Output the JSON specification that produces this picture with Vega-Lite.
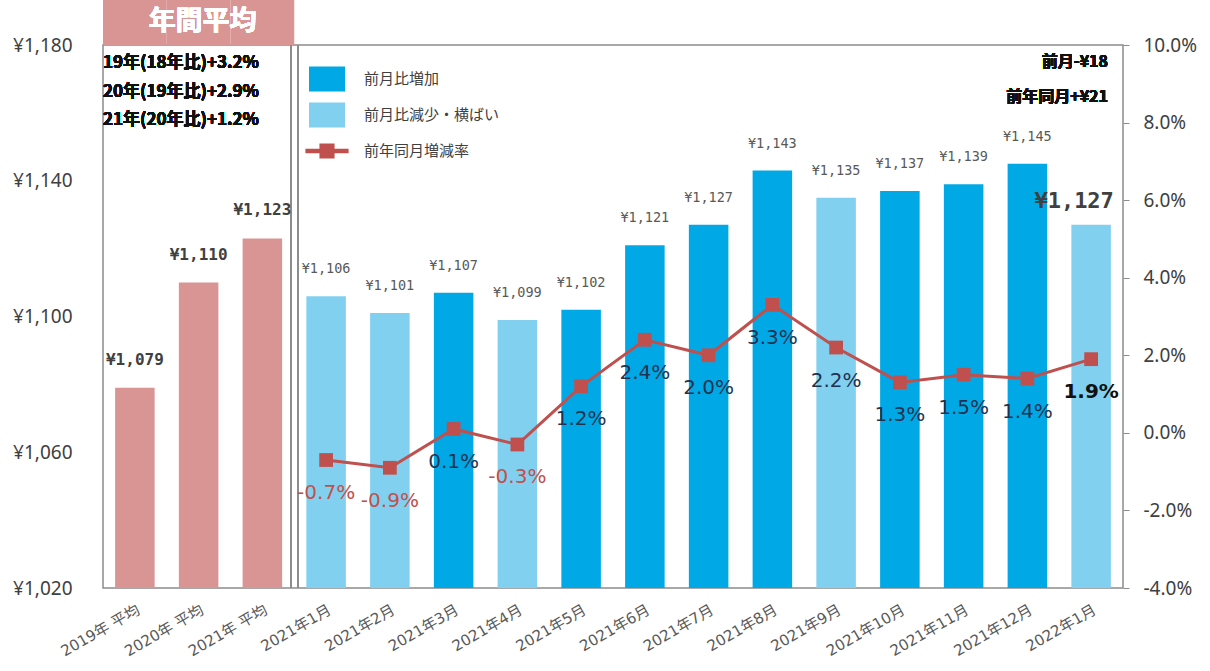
{
  "$schema": "https://vega.github.io/schema/vega-lite/v6.json",
  "width": 1020,
  "height": 543,
  "autosize": {"type": "none"},
  "padding": {"left": 103, "top": 45, "right": 87, "bottom": 83},
  "background": "white",
  "config": {
    "font": "DejaVu Sans, Noto Sans CJK JP",
    "view": {"stroke": "#8c8c8c", "strokeWidth": 1.5},
    "locale": {
      "number": {"decimal": ".", "thousands": ",", "grouping": [3], "currency": ["¥", ""], "minus": "-"}
    }
  },
  "data": {
    "values": [
      {"cat": "2019年 平均", "price": 1079, "type": "年間平均"},
      {"cat": "2020年 平均", "price": 1110, "type": "年間平均"},
      {"cat": "2021年 平均", "price": 1123, "type": "年間平均"},
      {"cat": "2021年1月", "price": 1106, "type": "前月比減少・横ばい", "rate": -0.007},
      {"cat": "2021年2月", "price": 1101, "type": "前月比減少・横ばい", "rate": -0.009},
      {"cat": "2021年3月", "price": 1107, "type": "前月比増加", "rate": 0.001},
      {"cat": "2021年4月", "price": 1099, "type": "前月比減少・横ばい", "rate": -0.003},
      {"cat": "2021年5月", "price": 1102, "type": "前月比増加", "rate": 0.012},
      {"cat": "2021年6月", "price": 1121, "type": "前月比増加", "rate": 0.024},
      {"cat": "2021年7月", "price": 1127, "type": "前月比増加", "rate": 0.02},
      {"cat": "2021年8月", "price": 1143, "type": "前月比増加", "rate": 0.033},
      {"cat": "2021年9月", "price": 1135, "type": "前月比減少・横ばい", "rate": 0.022},
      {"cat": "2021年10月", "price": 1137, "type": "前月比増加", "rate": 0.013},
      {"cat": "2021年11月", "price": 1139, "type": "前月比増加", "rate": 0.015},
      {"cat": "2021年12月", "price": 1145, "type": "前月比増加", "rate": 0.014},
      {"cat": "2022年1月", "price": 1127, "type": "前月比減少・横ばい", "rate": 0.019}
    ]
  },
  "encoding": {
    "x": {
      "field": "cat",
      "type": "nominal",
      "sort": null,
      "scale": {"paddingInner": 0, "paddingOuter": 0},
      "axis": {
        "title": null,
        "labelAngle": -30,
        "labelFontSize": 15,
        "labelColor": "#595959",
        "labelPadding": 14,
        "ticks": false,
        "domain": false
      }
    }
  },
  "layer": [
    {
      "layer": [
        {
          "transform": [{"filter": "datum.type === '年間平均'"}],
          "mark": {"type": "bar", "width": {"band": 1}, "color": "#d99594"},
          "encoding": {
            "y": {"datum": 1180},
            "y2": {"datum": 1193.3}
          }
        },
        {
          "mark": {"type": "text", "text": "年間平均", "fontSize": 27, "fontWeight": "bold", "font": "Noto Sans CJK JP", "color": "white", "dx": 4},
          "encoding": {
            "x": {"datum": "2020年 平均"},
            "y": {"datum": 1186.7}
          }
        },
        {
          "mark": {"type": "bar", "width": {"band": 0.62}},
          "encoding": {
            "y": {
              "field": "price",
              "type": "quantitative",
              "scale": {"domain": [1020, 1180], "nice": false, "zero": false},
              "axis": {
                "title": null,
                "values": [1020, 1060, 1100, 1140, 1180],
                "format": "$,.0f",
                "grid": false,
                "domain": false,
                "ticks": false,
                "labelPadding": 31,
                "labelFont": "Noto Sans",
                "labelFontSize": 19,
                "labelColor": "#404040"
              }
            },
            "y2": {"datum": 1020},
            "color": {
              "field": "type",
              "type": "nominal",
              "scale": {
                "domain": ["年間平均", "前月比増加", "前月比減少・横ばい", "前年同月増減率"],
                "range": ["#d99594", "#00a9e6", "#82d0f0", "#c0504d"]
              },
              "legend": {
                "title": null,
                "orient": "none",
                "legendX": 205,
                "legendY": 15,
                "padding": 0,
                "values": ["前月比増加", "前月比減少・横ばい", "前年同月増減率"],
                "symbolSize": 1296,
                "rowPadding": 1,
                "labelOffset": 18,
                "labelFontSize": 15,
                "labelColor": "#404040",
                "labelFont": "Noto Sans CJK JP",
                "encode": {
                  "symbols": {
                    "update": {
                      "shape": {"signal": "datum.value === '前年同月増減率' ? 'M-1.2,-0.12H1.2V0.12H-1.2Z M-0.42,-0.42H0.42V0.42H-0.42Z' : 'M-1,-0.7H1V0.7H-1Z'"},
                      "fill": {"scale": "color", "field": "value"},
                      "stroke": {"value": "transparent"},
                      "opacity": {"value": 1},
                      "fillOpacity": {"value": 1}
                    }
                  }
                }
              }
            }
          }
        },
        {
          "mark": {"type": "rule", "color": "#8c8c8c", "strokeWidth": 1.5, "xOffset": -3},
          "encoding": {
            "x": {"datum": "2021年1月", "bandPosition": 0},
            "y": {"datum": 1020},
            "y2": {"datum": 1180}
          }
        },
        {
          "mark": {"type": "rule", "color": "#8c8c8c", "strokeWidth": 1.5, "xOffset": 4},
          "encoding": {
            "x": {"datum": "2021年1月", "bandPosition": 0},
            "y": {"datum": 1020},
            "y2": {"datum": 1180}
          }
        },
        {
          "transform": [{"filter": "datum.type === '年間平均'"}],
          "mark": {"type": "text", "baseline": "bottom", "dy": -20, "fontSize": 16, "fontWeight": "bold", "font": "DejaVu Sans Mono", "color": "#404040"},
          "encoding": {
            "y": {"field": "price", "type": "quantitative"},
            "text": {"field": "price", "type": "quantitative", "format": "$,.0f"}
          }
        },
        {
          "transform": [{"filter": "datum.type !== '年間平均' && datum.cat !== '2022年1月'"}],
          "mark": {"type": "text", "baseline": "bottom", "dy": -20, "fontSize": 13.5, "font": "DejaVu Sans Mono", "color": "#595959"},
          "encoding": {
            "y": {"field": "price", "type": "quantitative"},
            "text": {"field": "price", "type": "quantitative", "format": "$,.0f"}
          }
        },
        {
          "transform": [{"filter": "datum.cat === '2022年1月'"}],
          "mark": {"type": "text", "baseline": "bottom", "dy": -12, "dx": -17, "fontSize": 22, "fontWeight": "bold", "font": "DejaVu Sans Mono", "color": "#404040"},
          "encoding": {
            "y": {"field": "price", "type": "quantitative"},
            "text": {"field": "price", "type": "quantitative", "format": "$,.0f"}
          }
        },
        {
          "mark": {
            "type": "text",
            "text": ["19年(18年比)+3.2%", "20年(19年比)+2.9%", "21年(20年比)+1.2%"],
            "align": "left",
            "baseline": "top",
            "dx": 0,
            "dy": 10,
            "lineHeight": 28.5,
            "fontSize": 17,
            "fontWeight": "bold",
            "font": "Noto Sans CJK JP",
            "color": "#111111"
          },
          "encoding": {
            "x": {"datum": "2019年 平均", "bandPosition": 0},
            "y": {"datum": 1180}
          }
        },
        {
          "mark": {
            "type": "text",
            "text": ["前月-¥18", "前年同月+¥21"],
            "align": "right",
            "baseline": "top",
            "dx": -15,
            "dy": 9,
            "lineHeight": 35,
            "fontSize": 16,
            "fontWeight": "bold",
            "font": "Noto Sans CJK JP",
            "color": "#111111"
          },
          "encoding": {
            "x": {"datum": "2022年1月", "bandPosition": 1},
            "y": {"datum": 1180}
          }
        }
      ]
    },
    {
      "transform": [{"filter": "datum.rate != null"}],
      "layer": [
        {
          "mark": {"type": "line", "color": "#c0504d", "strokeWidth": 3},
          "encoding": {
            "y": {
              "field": "rate",
              "type": "quantitative",
              "scale": {"domain": [-0.04, 0.1], "nice": false, "zero": false},
              "axis": {
                "title": null,
                "orient": "right",
                "values": [-0.04, -0.02, 0, 0.02, 0.04, 0.06, 0.08, 0.1],
                "format": ".1%",
                "grid": false,
                "domain": false,
                "tickSize": 6,
                "tickColor": "#8c8c8c",
                "labelPadding": 14,
                "labelFont": "Noto Sans",
                "labelFontSize": 19,
                "labelColor": "#404040"
              }
            }
          }
        },
        {
          "mark": {"type": "point", "shape": "square", "filled": true, "size": 190, "color": "#c0504d", "opacity": 1},
          "encoding": {
            "y": {"field": "rate", "type": "quantitative"}
          }
        },
        {
          "transform": [{"filter": "datum.cat !== '2022年1月'"}],
          "mark": {"type": "text", "dy": 33, "fontSize": 20},
          "encoding": {
            "y": {"field": "rate", "type": "quantitative"},
            "text": {"field": "rate", "type": "quantitative", "format": ".1%"},
            "color": {
              "condition": {"test": "datum.rate < 0", "value": "#c0504d"},
              "value": "#1f3350"
            }
          }
        },
        {
          "transform": [{"filter": "datum.cat === '2022年1月'"}],
          "mark": {"type": "text", "dy": 33, "fontSize": 20, "fontWeight": "bold", "color": "#111111"},
          "encoding": {
            "y": {"field": "rate", "type": "quantitative"},
            "text": {"field": "rate", "type": "quantitative", "format": ".1%"}
          }
        }
      ]
    }
  ],
  "resolve": {"scale": {"y": "independent"}}
}
